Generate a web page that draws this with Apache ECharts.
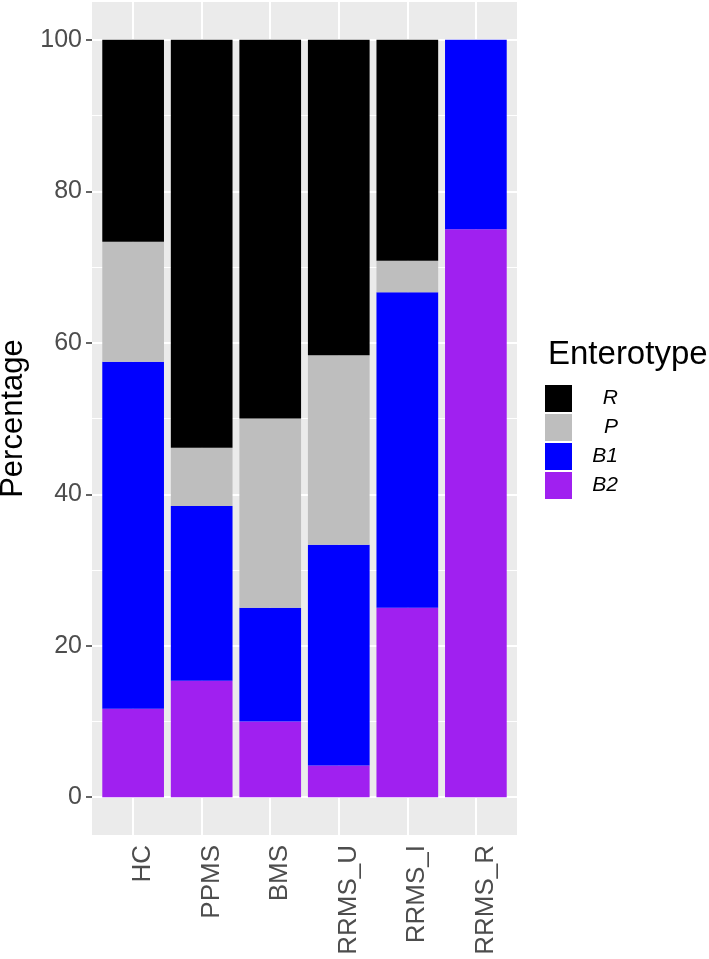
<!DOCTYPE html>
<html>
<head>
<meta charset="utf-8">
<script src="https://cdn.jsdelivr.net/npm/echarts@6/dist/echarts.min.js"></script>
<style>
html,body{margin:0;padding:0;background:#fff;}
#chart{width:709px;height:959px;}
</style>
</head>
<body>
<div id="chart"></div>
<script>
var categories = ['HC', 'PPMS', 'BMS', 'RRMS_U', 'RRMS_I', 'RRMS_R'];
var valuesR  = [26.67, 53.85, 50.00, 41.67, 29.17, 0];
var valuesP  = [15.83, 7.69, 25.00, 25.00, 4.17, 0];
var valuesB1 = [45.83, 23.08, 15.00, 29.17, 41.67, 25.00];
var valuesB2 = [11.67, 15.38, 10.00, 4.17, 25.00, 75.00];
var legendNames = ['R', 'P', 'B1', 'B2'];
var yTicks = [0, 20, 40, 60, 80, 100];

var colors = {R: '#000000', P: '#BEBEBE', B1: '#0000FF', B2: '#A020F0'};

// panel geometry
var panelL = 92, panelR = 517, panelT = 2, panelB = 835;
var unit = (panelR - panelL) / 6.2;
var y0 = 797.2, y100 = 39.9;
var FONT = 'Liberation Sans, Arial, sans-serif';

var chart = echarts.init(document.getElementById('chart'), null, {renderer: 'canvas'});

function barSeries(name, data, extra) {
  var s = {
    name: name, type: 'bar', stack: 'total', xAxisIndex: 2, yAxisIndex: 2,
    data: data, barWidth: '90%', z: 2,
    itemStyle: {color: colors[name], borderWidth: 0},
    emphasis: {disabled: true}
  };
  if (extra) for (var k in extra) s[k] = extra[k];
  return s;
}

var option = {
  animation: false,
  backgroundColor: '#ffffff',
  title: {
    text: 'Enterotype', left: 548, top: 338, padding: 0,
    textStyle: {fontFamily: FONT, fontSize: 33, fontWeight: 'normal', color: '#000'}
  },
  legend: {
    data: legendNames, orient: 'vertical', left: 545, top: 385, padding: 0,
    itemWidth: 27, itemHeight: 27, itemGap: 2, icon: 'rect',
    selectedMode: false,
    formatter: function (n) { return '{a|' + n + '}'; },
    textStyle: {
      rich: {a: {width: 41, align: 'right', fontStyle: 'italic', fontSize: 21, color: '#000', fontFamily: FONT}}
    }
  },
  grid: [
    {show: true, z: -1, outerBoundsMode: 'none', containLabel: false, left: panelL, top: panelT, width: panelR - panelL, height: panelB - panelT, backgroundColor: '#EBEBEB', borderWidth: 0},
    {outerBoundsMode: 'none', containLabel: false, left: panelL, top: y100, width: panelR - panelL, height: y0 - y100},
    {outerBoundsMode: 'none', containLabel: false, left: panelL + 0.1 * unit, top: panelT, width: 6 * unit, height: panelB - panelT}
  ],
  xAxis: [
    {gridIndex: 0, type: 'value', min: 0, max: 1, show: false},
    {gridIndex: 1, type: 'value', min: 0, max: 1, show: false},
    {
      gridIndex: 2, type: 'category', data: categories, position: 'bottom',
      axisLine: {show: false},
      axisTick: {show: true, alignWithLabel: true, length: 6, lineStyle: {color: '#333333', width: 1.5}},
      splitLine: {show: false},
      axisLabel: {
        rotate: 90, margin: 10, fontSize: 26, color: '#4D4D4D',
        fontFamily: FONT, verticalAlign: 'top', lineHeight: 20
      }
    }
  ],
  yAxis: [
    {gridIndex: 0, type: 'value', min: 0, max: 1, show: false},
    {
      gridIndex: 1, type: 'value', min: yTicks[0], max: yTicks[yTicks.length - 1], interval: 20,
      position: 'left',
      name: 'Percentage', nameLocation: 'middle', nameGap: 57,
      nameTextStyle: {fontSize: 31, color: '#000', fontFamily: FONT},
      axisLine: {show: false, onZero: false},
      axisTick: {show: true, length: 6, lineStyle: {color: '#333333', width: 1.5}},
      axisLabel: {margin: 10, fontSize: 25, color: '#4D4D4D', fontFamily: FONT},
      splitLine: {show: true, lineStyle: {color: '#FFFFFF', width: 2}},
      minorTick: {show: false, splitNumber: 2},
      minorSplitLine: {show: true, lineStyle: {color: '#FFFFFF', width: 1}}
    },
    {gridIndex: 2, type: 'value', min: -5, max: 105, show: false}
  ],
  series: [
    barSeries('B2', valuesB2),
    barSeries('B1', valuesB1),
    barSeries('P', valuesP),
    barSeries('R', valuesR, {
      markLine: {
        silent: true, z: 1, symbol: ['none', 'none'], label: {show: false},
        lineStyle: {color: '#FFFFFF', width: 2, type: 'solid'},
        emphasis: {disabled: true},
        data: categories.map(function (c) { return {xAxis: c}; })
      }
    })
  ]
};
chart.setOption(option);
</script>
</body>
</html>
